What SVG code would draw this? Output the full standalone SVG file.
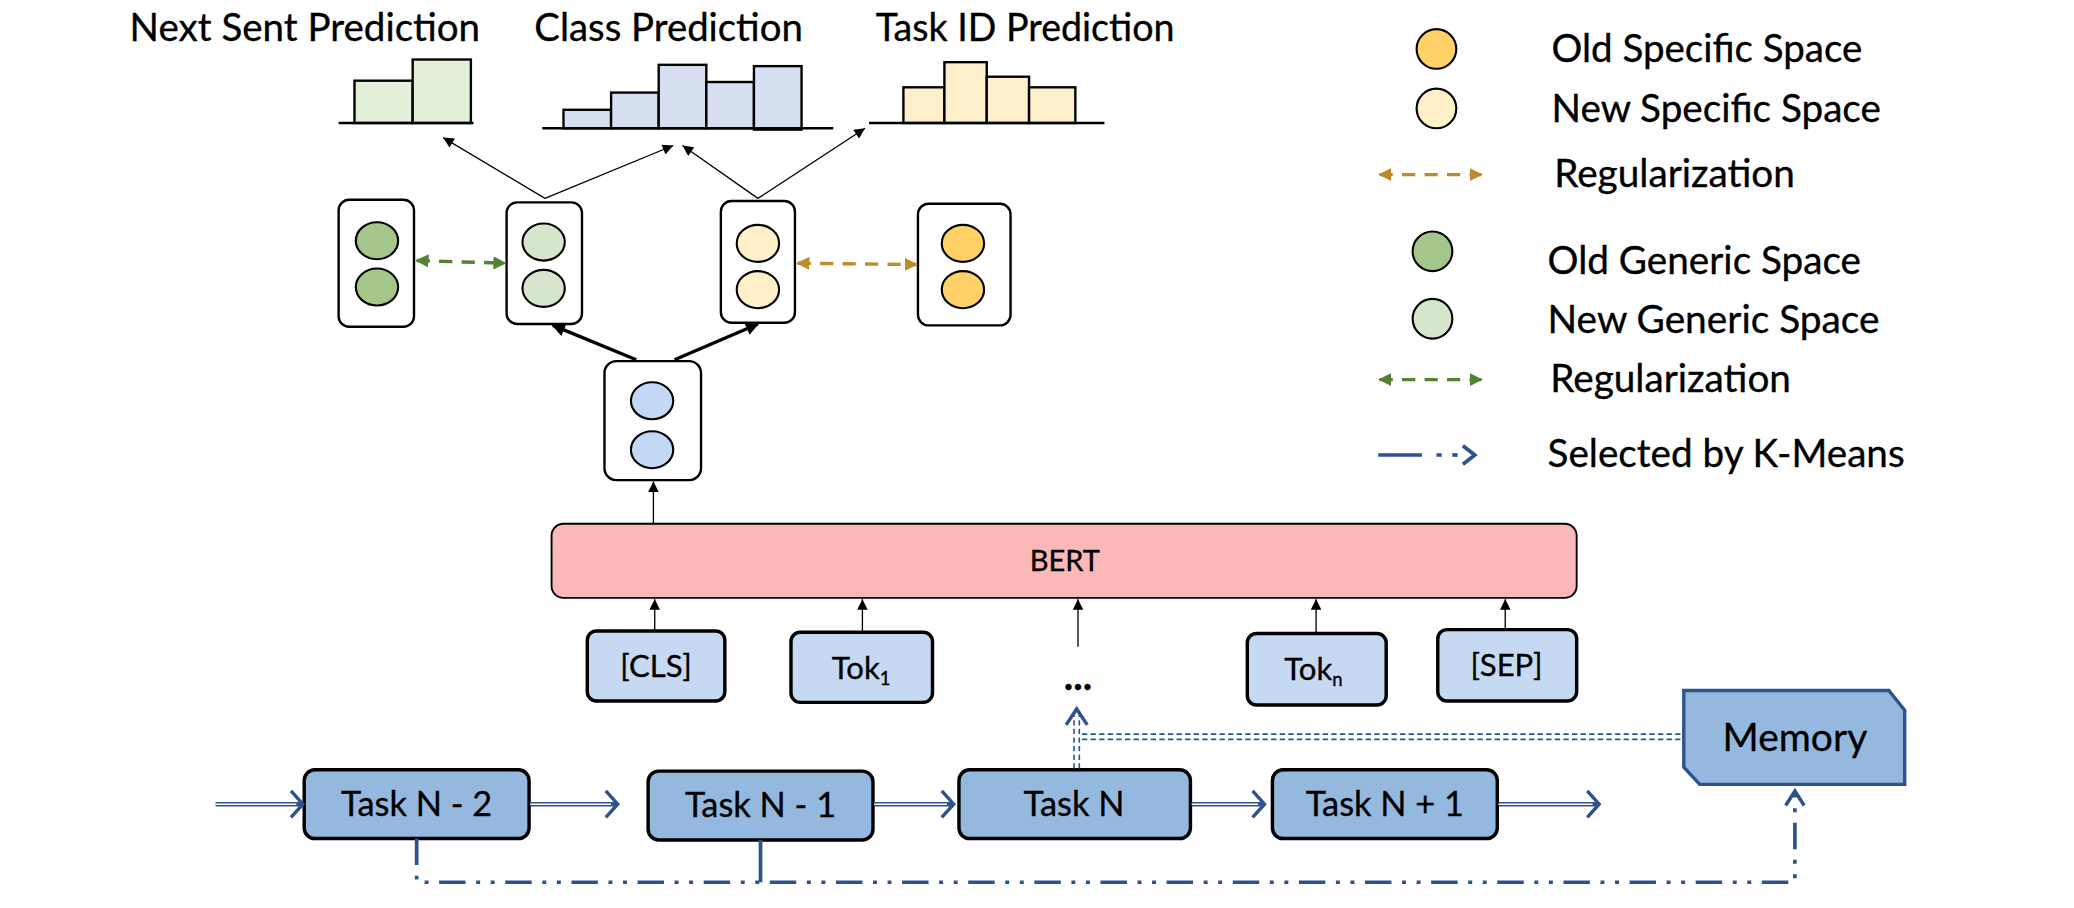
<svg xmlns="http://www.w3.org/2000/svg" width="2074" height="908" viewBox="0 0 2074 908">
<defs>
<style>
.t{font-family:Lato,"Open Sans","Liberation Sans",sans-serif;fill:#000;stroke:#000;stroke-width:0.25}
.big{font-size:28.5px}
.tok{font-size:23.5px}
.task{font-size:26px}
.hb{stroke:#000;stroke-width:1.8}
.box{fill:#fff;stroke:#000;stroke-width:1.8}
.c{stroke:#000;stroke-width:1.6}
.tk{fill:#c6d9f3;stroke:#000;stroke-width:2.6}
.ts{fill:#95b9de;stroke:#000;stroke-width:2.6}
.thin{stroke:#000;stroke-width:1;fill:none}
.blue{stroke:#2f528f;fill:none}
</style>
<marker id="ah" viewBox="0 0 10 10" refX="10" refY="5" markerWidth="9" markerHeight="8" markerUnits="userSpaceOnUse" orient="auto"><path d="M0,0 L10,5 L0,10 z" fill="#000"/></marker>
<marker id="ahb" viewBox="0 0 10 10" refX="9" refY="5" markerWidth="12" markerHeight="10" markerUnits="userSpaceOnUse" orient="auto"><path d="M0,0 L10,5 L0,10 z" fill="#000"/></marker>
<marker id="ag" viewBox="0 0 10 10" refX="9" refY="5" markerWidth="10" markerHeight="10" markerUnits="userSpaceOnUse" orient="auto-start-reverse"><path d="M0,0 L10,5 L0,10 z" fill="#548235"/></marker>
<marker id="ao" viewBox="0 0 10 10" refX="9" refY="5" markerWidth="10" markerHeight="10" markerUnits="userSpaceOnUse" orient="auto-start-reverse"><path d="M0,0 L10,5 L0,10 z" fill="#bf8a2a"/></marker>
</defs>
<rect width="2074" height="908" fill="#fff"/>
<g transform="scale(1.3227)">

<g id="titles">
<text class="t big" x="98" y="31" textLength="265" lengthAdjust="spacingAndGlyphs">Next Sent Prediction</text>
<text class="t big" x="404" y="31" textLength="203" lengthAdjust="spacingAndGlyphs">Class Prediction</text>
<text class="t big" x="662" y="31" textLength="226" lengthAdjust="spacingAndGlyphs">Task ID Prediction</text>
</g>

<g id="hist-nsp">
<rect class="hb" x="268" y="61" width="44" height="32" fill="#e2efd9"/>
<rect class="hb" x="312" y="45" width="44" height="48" fill="#e2efd9"/>
<line class="hb" x1="256" y1="93" x2="358" y2="93"/>
</g>
<g id="hist-class">
<rect class="hb" x="426" y="83" width="36" height="14" fill="#d6dfef"/>
<rect class="hb" x="462" y="70" width="36" height="27" fill="#d6dfef"/>
<rect class="hb" x="498" y="49" width="36" height="48" fill="#d6dfef"/>
<rect class="hb" x="534" y="62" width="36" height="35" fill="#d6dfef"/>
<rect class="hb" x="570" y="50" width="36" height="48" fill="#d6dfef"/>
<line class="hb" x1="410" y1="97" x2="630" y2="97"/>
</g>
<g id="hist-task">
<rect class="hb" x="683" y="66" width="31" height="27" fill="#fff0cc"/>
<rect class="hb" x="714" y="47" width="32" height="46" fill="#fff0cc"/>
<rect class="hb" x="746" y="58" width="32" height="35" fill="#fff0cc"/>
<rect class="hb" x="778" y="66" width="35" height="27" fill="#fff0cc"/>
<line class="hb" x1="657" y1="93" x2="835" y2="93"/>
</g>

<g id="old-generic">
<rect class="box" x="256" y="151" width="57" height="96" rx="8"/>
<ellipse class="c" cx="285" cy="182" rx="16" ry="14" fill="#a4c68a"/>
<ellipse class="c" cx="285" cy="217" rx="16" ry="14" fill="#a4c68a"/>
</g>
<g id="new-generic">
<rect class="box" x="383" y="153" width="57" height="92" rx="8"/>
<ellipse class="c" cx="411" cy="183" rx="16" ry="14" fill="#d6e6cd"/>
<ellipse class="c" cx="411" cy="218" rx="16" ry="14" fill="#d6e6cd"/>
</g>
<g id="new-specific">
<rect class="box" x="545" y="152" width="56" height="92" rx="8"/>
<ellipse class="c" cx="573" cy="184" rx="16" ry="14" fill="#fff0c9"/>
<ellipse class="c" cx="573" cy="219" rx="16" ry="14" fill="#fff0c9"/>
</g>
<g id="old-specific">
<rect class="box" x="694" y="154" width="70" height="92" rx="8"/>
<ellipse class="c" cx="728" cy="184" rx="16" ry="14" fill="#ffd166"/>
<ellipse class="c" cx="728" cy="219" rx="16" ry="14" fill="#ffd166"/>
</g>
<g id="shared">
<rect class="box" x="457" y="273" width="73" height="90" rx="9"/>
<ellipse class="c" cx="493" cy="303" rx="16" ry="14" fill="#c2d8f4"/>
<ellipse class="c" cx="493" cy="340" rx="16" ry="14" fill="#c2d8f4"/>
</g>

<g id="bert">
<rect x="417" y="396" width="775" height="56" rx="9" fill="#fbb8b8" stroke="#000" stroke-width="1.4"/>
<text class="t" x="805" y="432" font-size="22" text-anchor="middle">BERT</text>
</g>

<g id="tok-cls"><rect class="tk" x="444" y="477" width="104" height="53" rx="7"/><text class="t tok" x="496" y="512" text-anchor="middle">[CLS]</text></g>
<g id="tok-1"><rect class="tk" x="598" y="478" width="107" height="53" rx="7"/><text class="t tok" x="651" y="513" text-anchor="middle">Tok<tspan font-size="14" dy="5">1</tspan></text></g>
<g id="tok-dots"><text class="t" x="815" y="522" font-size="30" font-weight="bold" text-anchor="middle">...</text></g>
<g id="tok-n"><rect class="tk" x="943" y="479" width="105" height="54" rx="7"/><text class="t tok" x="993" y="514" text-anchor="middle">Tok<tspan font-size="14" dy="5">n</tspan></text></g>
<g id="tok-sep"><rect class="tk" x="1087" y="476" width="105" height="54" rx="7"/><text class="t tok" x="1139" y="511" text-anchor="middle">[SEP]</text></g>

<g id="task-n-2"><rect class="ts" x="230" y="582" width="170" height="52" rx="8"/><text class="t task" x="315" y="617" text-anchor="middle">Task N - 2</text></g>
<g id="task-n-1"><rect class="ts" x="490" y="583" width="170" height="52" rx="8"/><text class="t task" x="575" y="618" text-anchor="middle">Task N - 1</text></g>
<g id="task-n"><rect class="ts" x="725" y="582" width="175" height="52" rx="8"/><text class="t task" x="812" y="617" text-anchor="middle">Task N</text></g>
<g id="task-n1"><rect class="ts" x="962" y="582" width="170" height="52" rx="8"/><text class="t task" x="1047" y="617" text-anchor="middle">Task N + 1</text></g>

<g id="memory">
<path d="M1273,522 H1428 L1440,537 V593 H1285 L1273,580 Z" fill="#95b9de" stroke="#2f528f" stroke-width="2.6"/>
<text class="t" x="1357" y="568" font-size="29.5" text-anchor="middle">Memory</text>
</g>

<g id="connectors">
<line class="thin" x1="412" y1="150" x2="335" y2="104" marker-end="url(#ah)"/>
<line class="thin" x1="412" y1="150" x2="509" y2="110" marker-end="url(#ah)"/>
<line class="thin" x1="573" y1="150" x2="516" y2="110" marker-end="url(#ah)"/>
<line class="thin" x1="573" y1="150" x2="654" y2="97" marker-end="url(#ah)"/>
<line stroke="#000" stroke-width="2.5" x1="481" y1="272" x2="418" y2="246" marker-end="url(#ahb)"/>
<line stroke="#000" stroke-width="2.5" x1="510" y1="272" x2="573" y2="245" marker-end="url(#ahb)"/>
<line stroke="#548235" stroke-width="2.6" stroke-dasharray="10 7" x1="315" y1="197" x2="382" y2="199" marker-start="url(#ag)" marker-end="url(#ag)"/>
<line stroke="#bf8a2a" stroke-width="2.6" stroke-dasharray="10 7" x1="603" y1="199" x2="693" y2="200" marker-start="url(#ao)" marker-end="url(#ao)"/>
<line class="thin" x1="494" y1="396" x2="494" y2="364" marker-end="url(#ah)"/>
<line class="thin" x1="495" y1="477" x2="495" y2="453" marker-end="url(#ah)"/>
<line class="thin" x1="652" y1="478" x2="652" y2="453" marker-end="url(#ah)"/>
<line class="thin" x1="815" y1="489" x2="815" y2="453" marker-end="url(#ah)"/>
<line class="thin" x1="995" y1="479" x2="995" y2="453" marker-end="url(#ah)"/>
<line class="thin" x1="1138" y1="476" x2="1138" y2="453" marker-end="url(#ah)"/>

<g id="task-flow">
<path class="blue" stroke-width="3.4" d="M163,608 H228 M401,608 H466 M661,608 H720 M901,608 H955 M1133,608 H1208"/>
<path stroke="#fff" stroke-width="1.1" fill="none" d="M163,608 H224 M401,608 H462 M661,608 H716 M901,608 H951 M1133,608 H1204"/>
<path class="blue" stroke-width="2.6" d="M220,598 L229,608 L220,618 M458,598 L467,608 L458,618 M712,598 L721,608 L712,618 M947,598 L956,608 L947,618 M1200,598 L1209,608 L1200,618"/>
</g>

<g id="memory-link" class="blue" stroke-width="1.2">
<path d="M812,581 V541 M816,581 V541" stroke-dasharray="4 2.5"/>
<path d="M818,555 H1272 M818,559 H1272" stroke-dasharray="4 2.5"/>
<path d="M806,548 L814,536 L822,548" stroke-width="2.6"/>
</g>

<g id="kmeans" class="blue" stroke-width="2.8">
<path d="M315,634 V667 H1357 V600" stroke-dasharray="20 8 3 8 3 8"/>
<path d="M575,635 V667"/>
<path d="M1350,609 L1357,598 L1364,609" stroke-width="2.6"/>
</g>
</g>

<g id="legend">
<ellipse class="c" cx="1086" cy="37" rx="15" ry="15" fill="#ffd166"/>
<text class="t big" x="1173" y="47" textLength="235" lengthAdjust="spacingAndGlyphs">Old Specific Space</text>
<ellipse class="c" cx="1086" cy="82" rx="15" ry="15" fill="#fff0c9"/>
<text class="t big" x="1173" y="92" textLength="249" lengthAdjust="spacingAndGlyphs">New Specific Space</text>
<line stroke="#bf8a2a" stroke-width="2.6" stroke-dasharray="10 7" x1="1043" y1="132" x2="1120" y2="132" marker-start="url(#ao)" marker-end="url(#ao)"/>
<text class="t big" x="1175" y="141" textLength="182" lengthAdjust="spacingAndGlyphs">Regularization</text>
<ellipse class="c" cx="1083" cy="190" rx="15" ry="15" fill="#a4c68a"/>
<text class="t big" x="1170" y="207" textLength="237" lengthAdjust="spacingAndGlyphs">Old Generic Space</text>
<ellipse class="c" cx="1083" cy="241" rx="15" ry="15" fill="#d6e6cd"/>
<text class="t big" x="1170" y="252" textLength="251" lengthAdjust="spacingAndGlyphs">New Generic Space</text>
<line stroke="#548235" stroke-width="2.6" stroke-dasharray="10 7" x1="1043" y1="287" x2="1120" y2="287" marker-start="url(#ag)" marker-end="url(#ag)"/>
<text class="t big" x="1172" y="296" textLength="182" lengthAdjust="spacingAndGlyphs">Regularization</text>
<path class="blue" stroke-width="2.8" d="M1042,344 H1075 M1086,344 H1090"/>
<path class="blue" stroke-width="2.8" d="M1098,344 H1102"/>
<path class="blue" stroke-width="2.8" d="M1106,337 L1115,344 L1106,351"/>
<text class="t big" x="1170" y="353" textLength="270" lengthAdjust="spacingAndGlyphs">Selected by K-Means</text>
</g>
</g>
</svg>
